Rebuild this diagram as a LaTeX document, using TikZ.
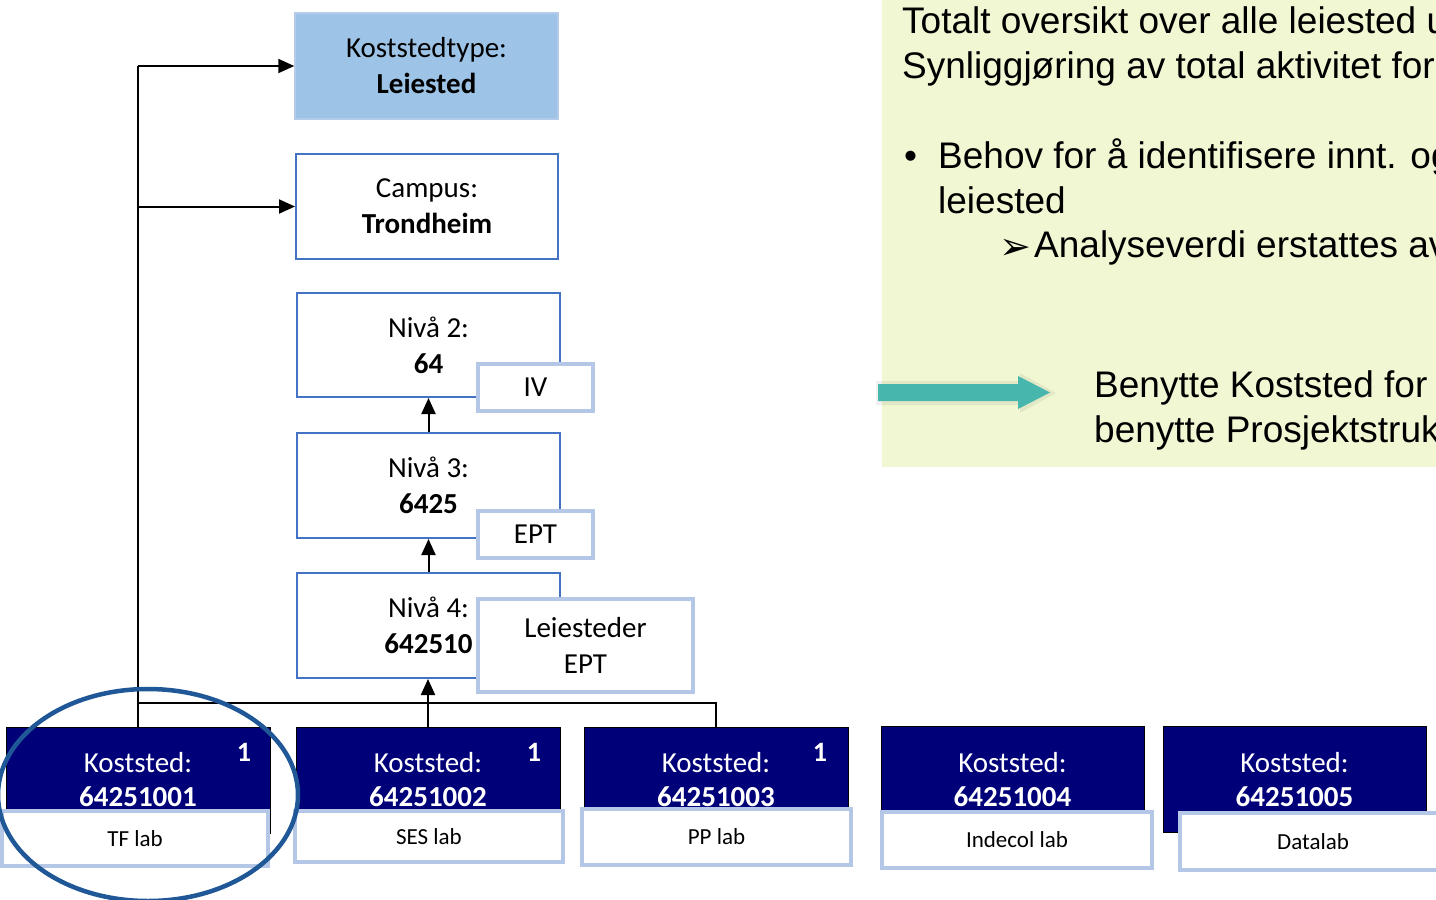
\documentclass[tikz,border=0pt]{standalone}
\usepackage{fontspec}
\setmainfont{Carlito}
\newfontfamily\arialf{Liberation Sans}
\newfontfamily\dejavuf{DejaVu Sans}
\usetikzlibrary{arrows.meta,shapes.geometric}
\definecolor{navyk}{HTML}{000078}
\definecolor{topfill}{HTML}{9DC3E6}
\definecolor{topline}{HTML}{B4CCEA}
\definecolor{lvline}{HTML}{4472C4}
\definecolor{tagline}{HTML}{B4C7E7}
\definecolor{ellc}{HTML}{1F5797}
\definecolor{panelc}{HTML}{F1F6D3}
\definecolor{tealc}{HTML}{47B6AD}
\begin{document}
\begin{tikzpicture}[x=1pt,y=-1pt,
  bigtxt/.style={font=\fontsize{29}{36}\selectfont, align=center, inner sep=0pt},
  topbox/.style={bigtxt, fill=topfill, draw=topline, line width=1.5pt},
  lvbox/.style={bigtxt, fill=white, draw=lvline, line width=2pt},
  tagbox/.style={bigtxt, fill=white, draw=tagline, line width=4pt},
  kbox/.style={bigtxt, font=\fontsize{29}{34}\selectfont, fill=navyk, draw=black, line width=1pt, text=white, minimum width=264pt},
  labbox/.style={font=\fontsize{23}{28}\selectfont, inner sep=0pt, fill=white, draw=tagline, line width=4pt},
  onetxt/.style={font=\fontsize{28}{30}\selectfont\bfseries, text=white, inner sep=0pt},
  rtxt/.style={font=\fontsize{37}{44}\selectfont\arialf, anchor=base west, inner sep=0pt},
  conn/.style={line width=2pt, draw=black},
  arr/.style={conn, -{Triangle[length=16pt,width=14pt]}}
]
\useasboundingbox (0,0) rectangle (1436,900);
\clip (0,0) rectangle (1436,900);

% right panel
\fill[panelc] (882,0) rectangle (1436,467);
\fill[black, opacity=0.06] (876,381) -- (1020,381) -- (1020,373) -- (1056,393) -- (1020,413) -- (1020,405) -- (876,405) -- cycle;
\fill[tealc] (878,384) -- (1018,384) -- (1018,376) -- (1050,392.5) -- (1018,409) -- (1018,401) -- (878,401) -- cycle;
\node[rtxt] (t1) at (902,33) {Totalt oversikt over alle leiested u};
\node[rtxt] (t2) at (902,78) {Synliggjøring av total aktivitet for};
\node[rtxt] (tb) at (904,168) {•};
\node[rtxt] (t3) at (938,168) {Behov for å identifisere innt. og};
\node[rtxt] (t4) at (938,213) {leiested};
\node[font=\fontsize{38}{42}\selectfont\dejavuf, anchor=base west, inner sep=0pt] (ta) at (999,259) {➢};
\node[rtxt] (t5) at (1034,257) {Analyseverdi erstattes av};
\node[rtxt] (t6) at (1094,397) {Benytte Koststed for};
\node[rtxt] (t7) at (1094,442) {benytte Prosjektstruk};

% hierarchy boxes
\node[topbox, minimum width=263pt, minimum height=106pt] (kt) at (426.5,66) {Koststedtype:\\\textbf{Leiested}};
\node[lvbox, minimum width=262pt, minimum height=105pt] (camp) at (427,206.5) {Campus:\\\textbf{Trondheim}};
\node[lvbox, minimum width=263pt, minimum height=104pt] (n2) at (428.5,345) {Nivå 2:\\\textbf{64}};
\node[lvbox, minimum width=263pt, minimum height=105pt] (n3) at (428.5,485.5) {Nivå 3:\\\textbf{6425}};
\node[lvbox, minimum width=263pt, minimum height=105pt] (n4) at (428.5,625.5) {Nivå 4:\\\textbf{642510}};
\node[tagbox, minimum width=115pt, minimum height=47pt] (iv) at (535.5,387.5) {IV};
\node[tagbox, minimum width=115pt, minimum height=47pt] (ept) at (535.5,534.5) {EPT};
\node[tagbox, minimum width=215pt, minimum height=93pt] (lept) at (585.5,645.5) {Leiesteder\\EPT};

% cost centre boxes
\node[kbox, minimum height=106pt] (k1) at (138,780) {Koststed:\\\textbf{64251001}};
\node[kbox, minimum height=106pt] (k2) at (428,780) {Koststed:\\\textbf{64251002}};
\node[kbox, minimum height=106pt] (k3) at (716,780) {Koststed:\\\textbf{64251003}};
\node[kbox, minimum width=263pt, minimum height=106pt] (k4) at (1012.5,779.5) {Koststed:\\\textbf{64251004}};
\node[kbox, minimum width=263pt, minimum height=106pt] (k5) at (1294.5,779.5) {Koststed:\\\textbf{64251005}};
\node[onetxt] (o1) at (244,752) {1};
\node[onetxt] (o2) at (534,752) {1};
\node[onetxt] (o3) at (820,752) {1};

\node[labbox, minimum width=266pt, minimum height=55pt] (l1) at (135,838.5) {TF lab};
\node[labbox, minimum width=268pt, minimum height=51pt] (l2) at (429,836.5) {SES lab};
\node[labbox, minimum width=269pt, minimum height=56pt] (l3) at (716.5,837) {PP lab};
\node[labbox, minimum width=270pt, minimum height=56pt] (l4) at (1017,840) {Indecol lab};
\node[labbox, minimum width=266pt, minimum height=57pt] (l5) at (1313,841.5) {Datalab};

% junction points
\coordinate (j1) at (k1.north |- kt.west);
\coordinate (j2) at (k1.north |- camp.west);
\coordinate (j3) at (138,703);
\coordinate (j4) at (k3.north |- j3);

% connectors
\draw[conn] (k1.north) -- (j1);
\draw[arr] (j1) -- (kt.west);
\draw[arr] (j2) -- (camp.west);
\draw[conn] (j3) -- (j4) -- (k3.north);
\draw[arr] (k2.north) -- (k2.north |- n4.south);
\draw[arr] (n4.north) -- (n3.south);
\draw[arr] (n3.north) -- (n2.south);

% highlight ellipse
\node[ellipse, draw=ellc, line width=4.5pt, minimum width=300pt, minimum height=212pt, inner sep=0pt] (hl) at (148,795) {};
\end{tikzpicture}
\end{document}
